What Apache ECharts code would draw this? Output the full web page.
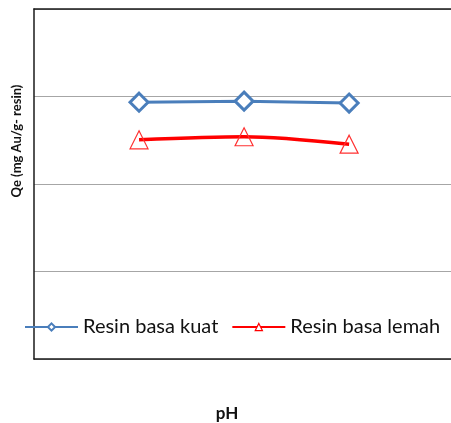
<!DOCTYPE html>
<html><head><meta charset="utf-8">
<script src="https://cdn.jsdelivr.net/npm/echarts@6/dist/echarts.min.js"></script>
<style>html,body{margin:0;padding:0;background:#fff}#c{width:451px;height:423px}</style>
</head><body><div id="c"></div>
<script>
var xPositions = [1, 2, 3];
var seriesNames = ['Resin basa kuat', 'Resin basa lemah'];
var kuat = [2.935, 2.947, 2.925];
var lemah = [2.505, 2.54, 2.455];
var yMin = 0, yMax = 4, yInterval = 1;
var xMin = 0, xMax = 3.97;

function pairs(vals) { return vals.map(function (v, i) { return [xPositions[i], v]; }); }
var axisLineStyle = {color: '#1a1a1a', width: 1.5};

var chart = echarts.init(document.getElementById('c'), null, {renderer: 'canvas'});
chart.setOption({
  animation: false,
  backgroundColor: '#fff',
  grid: {left: 34, top: 9, right: 0, bottom: 64, outerBoundsMode: 'none', containLabel: false},
  xAxis: [
    {type: 'value', min: xMin, max: xMax, position: 'bottom',
      axisLine: {show: true, onZero: false, lineStyle: axisLineStyle}, axisTick: {show: false}, axisLabel: {show: false}, splitLine: {show: false}},
    {type: 'value', min: xMin, max: xMax, position: 'top',
      axisLine: {show: true, onZero: false, lineStyle: axisLineStyle}, axisTick: {show: false}, axisLabel: {show: false}, splitLine: {show: false}}
  ],
  yAxis: {type: 'value', min: yMin, max: yMax, interval: yInterval,
    axisLine: {show: true, onZero: false, lineStyle: axisLineStyle}, axisTick: {show: false}, axisLabel: {show: false},
    splitLine: {show: true, lineStyle: {color: '#a6a6a6', width: 1}}},
  legend: {left: 24, top: 317, padding: 0, itemWidth: 53, itemHeight: 9, itemGap: 13,
    textStyle: {fontFamily: 'Lato', fontSize: 20, color: '#111'},
    data: [
      {name: seriesNames[0], itemStyle: {color: '#fff', borderColor: '#4a7ebb', borderWidth: 2}},
      {name: seriesNames[1], itemStyle: {color: '#fff', borderColor: '#ff0000', borderWidth: 1.2}}
    ]},
  series: [
    {name: seriesNames[0], type: 'line', data: pairs(kuat), symbol: 'diamond', symbolSize: 18,
      lineStyle: {color: '#4a7ebb', width: 3}, itemStyle: {color: '#fff', borderColor: '#4a7ebb', borderWidth: 3},
      z: 3},
    {name: seriesNames[1], type: 'line', data: pairs(lemah), symbol: 'triangle', symbolSize: 18, smooth: 0.3,
      lineStyle: {color: '#ff0000', width: 3.5}, itemStyle: {color: 'rgba(255,255,255,0)', borderColor: '#ff3030', borderWidth: 1.2},
      z: 2}
  ],
  graphic: [
    {type: 'text', x: 17, y: 141, rotation: Math.PI / 2,
      style: {text: 'Qe (mg Au/g- resin)', fontFamily: 'Lato', fontWeight: 'bold', fontSize: 13, fill: '#111', align: 'center', verticalAlign: 'middle'}},
    {type: 'text', x: 227, y: 414,
      style: {text: 'pH', fontFamily: 'Lato', fontWeight: 'bold', fontSize: 17, fill: '#111', align: 'center', verticalAlign: 'middle'}}
  ]
});
</script></body></html>
